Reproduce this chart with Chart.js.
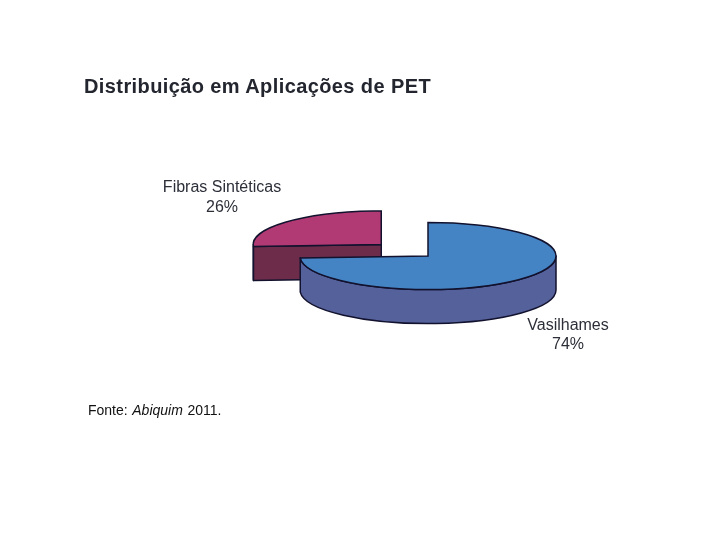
<!DOCTYPE html>
<html lang="pt">
<head>
  <meta charset="UTF-8">
  <title>Distribuição em Aplicações de PET</title>
  <script src="https://cdn.jsdelivr.net/npm/chart.js"></script>
  <style>
    body { margin: 0; background: #fff; }
    #page { position: relative; width: 720px; height: 540px; overflow: hidden; }
    #pie { position: absolute; left: 0; top: 0; filter: blur(0.4px); }
    #title {
      position: absolute; left: 84px; top: 75px; white-space: nowrap;
      font: bold 20px "Liberation Sans", Arial, sans-serif; color: #23262e;
      letter-spacing: 0.4px; filter: blur(0.35px);
    }
    #source {
      position: absolute; left: 88px; top: 402px; white-space: nowrap;
      font: 14px "Liberation Sans", Arial, sans-serif; color: #111;
      word-spacing: 0.7px;
    }
  </style>
</head>
<body>
  <div id="page">
    <canvas id="pie" width="720" height="540"></canvas>
    <div id="title">Distribuição em Aplicações de PET</div>
    <div id="source">Fonte: <i>Abiquim</i> 2011.</div>
  </div>
  <script>
    const categories = ['Vasilhames', 'Fibras Sintéticas'];
    const shares = [74, 26];
    const topColors = ['#4584c4', '#b13a74'];
    const wallColors = ['#55619b', '#6d2d4a'];

    const tilt = 0.262;      // vertical squash of the disc
    const depth = 34;        // wall height in px
    const outline = '#12122e';

    // where an arc really sits once its offset is applied (same as ArcElement.draw)
    function arcCenter(arc) {
      const mid = (arc.startAngle + arc.endAngle) / 2;
      const off = (arc.options.offset || 0) / 4;
      const fix = 1 - Math.sin(Math.min(Math.PI, arc.circumference));
      const d = off + off * fix;
      return { x: arc.x + Math.cos(mid) * d, y: arc.y + Math.sin(mid) * d };
    }

    function drawWall(ctx, arc, color, cy) {
      const c = arcCenter(arc);
      const r = arc.outerRadius;
      const sy = y => cy + (y - cy) * tilt;
      const cyS = sy(c.y);
      ctx.fillStyle = color;
      ctx.strokeStyle = outline;
      ctx.lineWidth = 1.5;
      ctx.lineJoin = 'round';

      // front part of the rim, between 0 and PI in canvas angles
      const from = Math.max(arc.startAngle, 0);
      const to = Math.min(arc.endAngle, Math.PI);
      if (to > from) {
        ctx.beginPath();
        ctx.ellipse(c.x, cyS, r, r * tilt, 0, from, to);
        ctx.ellipse(c.x, cyS + depth, r, r * tilt, 0, to, from, true);
        ctx.closePath();
        ctx.fill();
        ctx.stroke();
      }

      // cut face along the start radius
      if (Math.abs(Math.cos(arc.startAngle)) > 0.01) {
        const px = c.x + Math.cos(arc.startAngle) * r;
        const py = cyS + Math.sin(arc.startAngle) * r * tilt;
        ctx.beginPath();
        ctx.moveTo(c.x, cyS);
        ctx.lineTo(px, py);
        ctx.lineTo(px, py + depth);
        ctx.lineTo(c.x, cyS + depth);
        ctx.closePath();
        ctx.fill();
        ctx.stroke();
      }
    }

    const disc3d = {
      id: 'disc3d',
      beforeDatasetsDraw(chart) {
        const arcs = chart.getDatasetMeta(0).data;
        const cy = arcs[0].y;
        const ctx = chart.ctx;
        ctx.save();
        // back slice first so the big slice covers it
        drawWall(ctx, arcs[1], wallColors[1], cy);
        drawWall(ctx, arcs[0], wallColors[0], cy);
        ctx.restore();
      },
      beforeDatasetDraw(chart) {
        const cy = chart.getDatasetMeta(0).data[0].y;
        const ctx = chart.ctx;
        ctx.save();
        ctx.translate(0, cy);
        ctx.scale(1, tilt);
        ctx.translate(0, -cy);
      },
      afterDatasetDraw(chart) {
        chart.ctx.restore();
      },
      afterDatasetsDraw(chart) {
        const arcs = chart.getDatasetMeta(0).data;
        const cy = arcs[0].y;
        const ctx = chart.ctx;
        arcs.forEach(arc => {
          const c = arcCenter(arc);
          const cyS = cy + (c.y - cy) * tilt;
          ctx.beginPath();
          ctx.moveTo(c.x, cyS);
          ctx.ellipse(c.x, cyS, arc.outerRadius, arc.outerRadius * tilt, 0, arc.startAngle, arc.endAngle);
          ctx.closePath();
          ctx.strokeStyle = outline;
          ctx.lineWidth = 1.5;
          ctx.lineJoin = 'miter';
          ctx.stroke();
        });
      },
      afterDraw(chart) {
        const ctx = chart.ctx;
        const spots = [[568, 326, 345], [222, 188, 208]];
        ctx.save();
        ctx.fillStyle = '#2c2f38';
        ctx.textAlign = 'center';
        ctx.textBaseline = 'middle';
        ctx.font = '16px "Liberation Sans", Arial, sans-serif';
        categories.forEach((name, i) => {
          ctx.fillText(name, spots[i][0], spots[i][1]);
          ctx.fillText(shares[i] + '%', spots[i][0], spots[i][2]);
        });
        ctx.restore();
      }
    };

    new Chart(document.getElementById('pie'), {
      type: 'pie',
      data: {
        labels: categories,
        datasets: [{
          data: shares,
          backgroundColor: topColors,
          borderWidth: 0,
          offset: [0, 256],
          clip: false
        }]
      },
      options: {
        responsive: false,
        animation: false,
        radius: 128,
        layout: { padding: { left: 136, bottom: 28 } },
        plugins: { legend: { display: false }, tooltip: { enabled: false } }
      },
      plugins: [disc3d]
    });
  </script>
</body>
</html>
